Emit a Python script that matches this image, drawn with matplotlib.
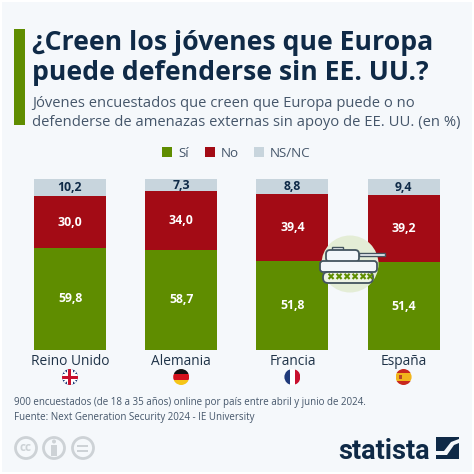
#!/usr/bin/env python
""" Share of young people who think Europe can defend itself without the US.
"""
import matplotlib
matplotlib.use('Agg')
import matplotlib.pyplot as plt
from matplotlib.patches import Circle, FancyBboxPatch, Polygon, Rectangle
import numpy as np

countries = ['Reino Unido', 'Alemania', 'Francia', 'España']
si = [59.8, 58.7, 51.8, 51.4]
no = [30.0, 34.0, 39.4, 39.2]
nsnc = [10.2, 7.3, 8.8, 9.4]
legend_labels = ['Sí', 'No', 'NS/NC']

title_lines = ['¿Creen los jóvenes que Europa', 'puede defenderse sin EE. UU.?']
subtitle_lines = ['Jóvenes encuestados que creen que Europa puede o no',
                  'defenderse de amenazas externas sin apoyo de EE. UU. (en %)']
foot_lines = ['900 encuestados (de 18 a 35 años) online por país entre abril y junio de 2024.',
              'Fuente: Next Generation Security 2024 - IE University']

GREEN = '#5f8d00'
RED = '#a30b15'
GREY = '#c8d5dd'
NAVY = '#0f2a47'
TEXT = '#45566a'
BG = '#f5f8fb'
ICON = '#cdd2d6'

plt.rcParams['font.family'] = ['Open Sans', 'DejaVu Sans']

fig = plt.figure(figsize=(4.74, 4.74), dpi=100, facecolor='white')


def px_axes(left, top, right, bottom):
    return fig.add_axes([left / 474, 1 - bottom / 474, (right - left) / 474, (bottom - top) / 474])


# Page, drawn in pixel coordinates
page = px_axes(0, 0, 474, 474)
page.set_xlim(0, 474)
page.set_ylim(474, 0)
page.axis('off')
page.add_patch(Rectangle((2, 2), 470, 470, fc=BG, ec='none'))
page.add_patch(Rectangle((14, 29), 11, 96, fc=GREEN, ec='none'))

for y, line in zip([50, 80], title_lines):
    page.text(32, y, line, fontsize=19.2, fontweight='bold', color=NAVY, va='baseline')
for y, line in zip([107, 126], subtitle_lines):
    page.text(32, y, line, fontsize=10.6, color=TEXT, va='baseline')

for x, color, label in zip([162, 205, 254], [GREEN, RED, GREY], legend_labels):
    page.add_patch(Rectangle((x, 147), 10, 10, fc=color, ec='none'))
    page.text(x + 16, 157, label, fontsize=9.6, color=TEXT, va='baseline')

for y, line in zip([405, 420], foot_lines):
    page.text(14, y, line, fontsize=7, color=TEXT, va='baseline')

# Bars
ax = px_axes(14.4, 179, 459.2, 350)
ax.patch.set_alpha(0)
xs = np.arange(len(countries))
si_arr, no_arr, ns_arr = np.array(si), np.array(no), np.array(nsnc)
width = 72 / 111.2
ax.bar(xs, si_arr, width, color=GREEN)
ax.bar(xs, no_arr, width, bottom=si_arr, color=RED)
ax.bar(xs, ns_arr, width, bottom=si_arr + no_arr, color=GREY)
ax.set_xlim(-0.5, 3.5)
ax.set_ylim(0, 100)
ax.axis('off')


def fmt(v):
    return f'{v:.1f}'.replace('.', ',')


for i in xs:
    ax.text(i, si[i] / 2, fmt(si[i]), ha='center', va='center', color='white',
            fontsize=8.8, fontweight='bold')
    ax.text(i, si[i] + no[i] / 2, fmt(no[i]), ha='center', va='center', color='white',
            fontsize=8.8, fontweight='bold')
    ax.text(i, si[i] + no[i] + nsnc[i] / 2, fmt(nsnc[i]), ha='center', va='center', color=NAVY,
            fontsize=8.8, fontweight='bold')
    page.text(70 + 111.2 * i, 365, countries[i], ha='center', va='baseline', fontsize=9.9,
              color='#1f3348')

# Decorations above the bars
deco = px_axes(0, 0, 474, 474)
deco.set_xlim(0, 474)
deco.set_ylim(474, 0)
deco.axis('off')
deco.patch.set_alpha(0)


def flag(cx, draw, cy=377, r=8):
    clip = Circle((cx, cy), r, transform=deco.transData)
    for patch in draw:
        deco.add_patch(patch)
        patch.set_clip_path(clip)


def rect(x, y, w, h, c):
    return Rectangle((x, y), w, h, fc=c, ec='none')


cx = 70
uk = [rect(cx - 8, 369, 16, 16, '#1f3a7a')]
for sign in (1, -1):
    uk.append(Polygon([(cx - 8, 377 - sign * 9), (cx - 8, 377 - sign * 6), (cx + 8, 377 + sign * 9),
                       (cx + 8, 377 + sign * 6)], fc='white', ec='none'))
uk += [rect(cx - 2.6, 369, 5.2, 16, 'white'), rect(cx - 8, 374.4, 16, 5.2, 'white'),
       rect(cx - 1.5, 369, 3, 16, '#c8102e'), rect(cx - 8, 375.5, 16, 3, '#c8102e')]
flag(cx, uk)
cx = 181.2
flag(cx, [rect(cx - 8, 369, 16, 5.4, '#111111'), rect(cx - 8, 374.4, 16, 5.3, '#d4121c'),
          rect(cx - 8, 379.7, 16, 5.3, '#f5c518')])
cx = 292.4
flag(cx, [rect(cx - 8, 369, 5.4, 16, '#1f3a7a'), rect(cx - 2.6, 369, 5.3, 16, 'white'),
          rect(cx + 2.7, 369, 5.3, 16, '#c8102e')])
cx = 403.6
flag(cx, [rect(cx - 8, 369, 16, 4, '#c8281e'), rect(cx - 8, 373, 16, 8, '#f1b51c'),
          rect(cx - 8, 381, 16, 4, '#c8281e'), rect(cx - 5, 375, 3.5, 4, '#b5442a')])

# Tank emblem
deco.add_patch(Circle((350, 264), 28.5, fc='#e4edd6', ec='none'))
TANK = '#44545f'
FILL = '#f3f6fa'
deco.add_patch(Rectangle((332, 247), 11, 3, fc=FILL, ec=TANK, lw=1))
deco.add_patch(Rectangle((359, 253), 26, 2.8, fc=FILL, ec=TANK, lw=1))
deco.add_patch(FancyBboxPatch((326, 250), 33, 12, boxstyle='round,pad=0,rounding_size=4',
                              fc=FILL, ec=TANK, lw=1.3))
deco.add_patch(FancyBboxPatch((320, 261), 57, 11, boxstyle='round,pad=0,rounding_size=3',
                              fc=FILL, ec=TANK, lw=1.3))
deco.add_patch(FancyBboxPatch((323, 272), 50, 11, boxstyle='round,pad=0,rounding_size=5',
                              fc='#eef3e4', ec=TANK, lw=1.3))
for wx in [330, 338, 346, 354, 362, 369]:
    deco.text(wx, 277.5, '✖', ha='center', va='center', fontsize=7, color=GREEN,
              family='DejaVu Sans')

# Licence icons
for icx, label in zip([26, 54, 83], ['cc', '', '']):
    deco.add_patch(Circle((icx, 448), 10.5, fc='none', ec=ICON, lw=2))
    if label:
        deco.text(icx, 447.5, label, ha='center', va='center', fontsize=8.5, color=ICON,
                  fontweight='bold')
deco.add_patch(Circle((54, 441.5), 2, fc=ICON, ec='none'))
deco.add_patch(Rectangle((51, 444.5), 6, 11, fc=ICON, ec='none'))
deco.add_patch(Rectangle((77.5, 444.5), 11, 2.2, fc=ICON, ec='none'))
deco.add_patch(Rectangle((77.5, 449.5), 11, 2.2, fc=ICON, ec='none'))

# Logo
deco.text(430, 459, 'statista', ha='right', va='baseline', fontsize=19.5, fontweight='bold',
          color=NAVY, family=['Roboto', 'Open Sans'])
deco.add_patch(Rectangle((436, 437), 23, 22, fc=NAVY, ec='none'))
deco.add_patch(Polygon([(436, 451), (444, 451), (451, 442), (459, 439), (459, 443), (454, 445),
                        (447, 455), (436, 455)], fc=BG, ec='none'))

fig.savefig('out.png', dpi=100)
